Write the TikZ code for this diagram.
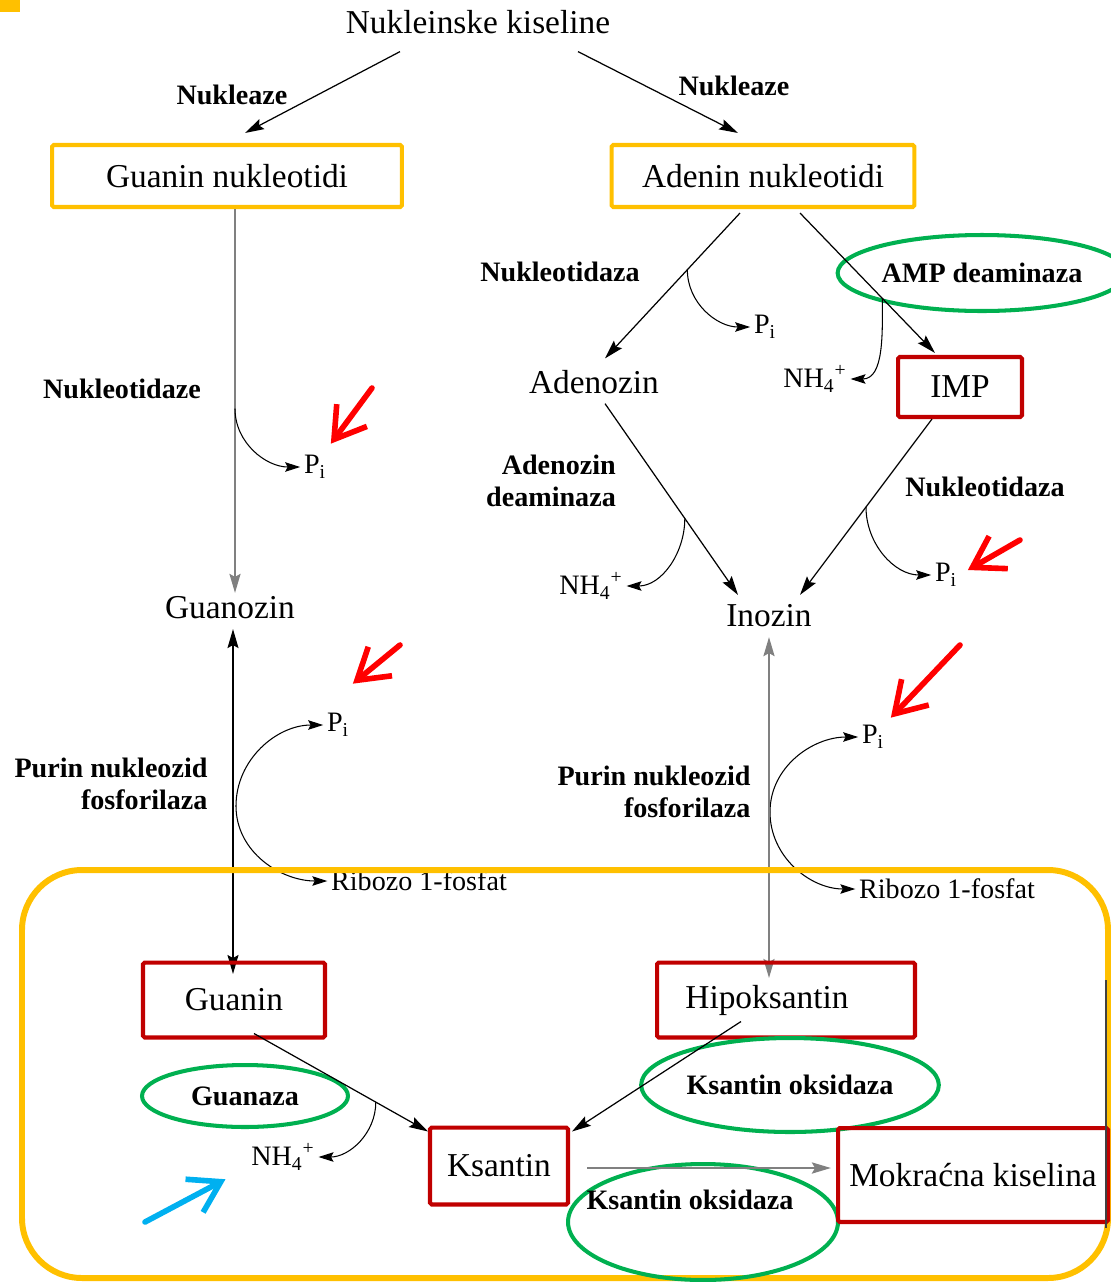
\documentclass[tikz,border=0pt]{standalone}
\usepackage{fontspec}
\setmainfont{Liberation Serif}
\usepackage{tikz}
\usetikzlibrary{arrows.meta,calc,shapes.geometric}

\definecolor{hlorange}{HTML}{FFC000}
\definecolor{boxred}{HTML}{C00000}
\definecolor{ellgreen}{HTML}{00B050}
\definecolor{hintred}{HTML}{FF0000}
\definecolor{hintblue}{HTML}{00B0F0}

\begin{document}
\begin{tikzpicture}[
    x=0.02cm,y=-0.02cm,
    metab/.style={font=\fontsize{19}{22}\selectfont,inner sep=2pt},
    enzyme/.style={font=\fontsize{16}{18}\selectfont\bfseries,inner sep=1pt},
    product/.style={font=\fontsize{16}{18}\selectfont,inner sep=2pt},
    obox/.style={metab,draw=hlorange,line width=2.3pt,rounded corners=1pt,minimum height=1.24cm},
    rbox/.style={metab,draw=boxred,line width=2.3pt,rounded corners=1pt},
    gell/.style={ellipse,draw=ellgreen,line width=2.3pt,inner sep=0pt},
    flow/.style={-{Stealth[length=3.8mm,width=2.2mm,inset=0.6mm]},line width=0.7pt},
    gflow/.style={flow,draw=black!50,line width=1.3pt},
    both/.style={{Stealth[length=3.8mm,width=2.2mm,inset=0.6mm]}-{Stealth[length=3.8mm,width=2.2mm,inset=0.6mm]},line width=0.8pt},
    side/.style={-{Stealth[length=3mm,width=1.9mm,inset=0.5mm]},line width=0.6pt},
    hint/.style={-{Straight Barb[length=6mm,width=7.5mm]},line width=3.2pt,line cap=round,hintred}
]
\useasboundingbox (0,0) rectangle (1111,1282);
\fill[hlorange] (0,0) rectangle (20,12);

% top: nucleic acids to nucleotides
\node[metab] (nk) at (478,22) {Nukleinske kiseline};
\node[enzyme] (nuc1) at (232,95) {Nukleaze};
\node[enzyme] (nuc2) at (734,86) {Nukleaze};
\node[obox,minimum width=7cm] (gnt) at (227,176) {Guanin nukleotidi};
\node[obox,minimum width=6.06cm] (ant) at (763,176) {Adenin nukleotidi};
\draw[flow] ($(nk.south)+(-78,14)$) -- ($(gnt.north)+(18,-10)$);
\draw[flow] ($(nk.south)+(100,14)$) -- ($(ant.north)+(-25,-10)$);

% guanine branch
\node[enzyme] (ntz1) at (122,389) {Nukleotidaze};
\node[product] (pi1) at (315,467) {P\textsubscript{i}};
\node[metab] (guo) at (230,608) {Guanozin};
\draw[gflow] ($(gnt.south)+(8,0)$) -- coordinate[pos=0.52] (b1) ($(guo.north)+(5,0)$);
\draw[side] (b1) to[out=-90,in=180] (pi1.west);

\node[enzyme,align=right] (pnp1) at (111,784) {Purin nukleozid\\fosforilaza};
\node[product] (pi2) at (338,725) {P\textsubscript{i}};
\node[product] (rib1) at (419,881) {Ribozo 1-fosfat};
\coordinate (c1) at (236,806);
\draw[side] (c1) to[out=90,in=180] (pi2.west);
\draw[side] (c1) to[out=-90,in=180] (rib1.west);

% adenine branch
\node[enzyme] (ntz2) at (560,272) {Nukleotidaza};
\node[product] (pi3) at (765,327) {P\textsubscript{i}};
\node[gell,enzyme,minimum width=5.08cm,minimum height=1.52cm] (ampd) at (982,273) {AMP deaminaza};
\node[product] (nh1) at (815,379) {NH\textsubscript{4}\textsuperscript{+}};
\node[metab] (ado) at (594,382) {Adenozin};
\node[rbox,minimum width=2.48cm,minimum height=1.2cm] (imp) at (960,387) {IMP};
\draw[flow] ($(ant.south)+(-23,4)$) -- coordinate[pos=0.39] (a1) ($(ado.north)+(11,-8)$);
\draw[side] (a1) to[out=-90,in=180] (pi3.west);
\draw[flow] ($(ant.south)+(37,4)$) -- coordinate[pos=0.61] (a2) ($(imp.north)+(-25,-2)$);
\draw[side] (a2) to[out=-90,in=0] (nh1.east);

\node[enzyme,align=right] (add) at (551,481) {Adenozin\\deaminaza};
\node[product] (nh2) at (591,586) {NH\textsubscript{4}\textsuperscript{+}};
\node[enzyme] (ntz3) at (985,487) {Nukleotidaza};
\node[product] (pi4) at (946,575) {P\textsubscript{i}};
\node[metab] (ino) at (769,616) {Inozin};
\draw[flow] ($(ado.south)+(11,6)$) -- coordinate[pos=0.6] (a3) ($(ino.north)+(-31,-6)$);
\draw[side] (a3) to[out=-90,in=0] (nh2.east);
\draw[flow] ($(imp.south)+(-28,0)$) -- coordinate[pos=0.5] (a4) ($(ino.north)+(31,-6)$);
\draw[side] (a4) to[out=-90,in=180] (pi4.west);

\node[enzyme,align=right] (pnp2) at (654,792) {Purin nukleozid\\fosforilaza};
\node[product] (pi5) at (873,737) {P\textsubscript{i}};
\node[product] (rib2) at (947,889) {Ribozo 1-fosfat};
\coordinate (c2) at (770,812);
\draw[side] (c2) to[out=90,in=180] (pi5.west);
\draw[side] (c2) to[out=-90,in=180] (rib2.west);

% bases and degradation
\draw[both] ($(guo.south)+(3,6)$) -- (233,974);
\draw[both,draw=black!50,line width=1.3pt] ($(ino.south)+(0,6)$) -- (769,978);

\draw[hlorange,line width=3.4pt,rounded corners=1.2cm] (22,870) rectangle (1108,1278);

\node[rbox,minimum width=3.64cm,minimum height=1.5cm] (gua) at (234,1000) {Guanin};
\node[rbox,minimum width=5.16cm,minimum height=1.5cm] (hip) at (786,1000) {\hspace*{-0.76cm}Hipoksantin};
\node[gell,enzyme,minimum width=4.12cm,minimum height=1.24cm] (gnz) at (245,1096) {Guanaza};
\node[product] (nh3) at (283,1157) {NH\textsubscript{4}\textsuperscript{+}};
\node[rbox,minimum width=2.76cm,minimum height=1.54cm] (ksa) at (499,1166) {Ksantin};
\node[gell,enzyme,minimum width=5.32cm,minimum height=1.88cm] (xo1) at (790,1085) {Ksantin oksidaza};
\node[gell,minimum width=5.4cm,minimum height=2.32cm] (xo2) at (703,1222) {};
\node[enzyme] (xo2t) at (690,1200) {Ksantin oksidaza};
\node[rbox,minimum width=5.4cm,minimum height=1.88cm] (uric) at (973,1175) {Mokraćna kiselina};
\draw[black!75,line width=0.8pt] (1106,980) -- (1106,1228);

\draw[flow] ($(gua.south)+(20,-6)$) -- coordinate[pos=0.7] (a5) ($(ksa.north west)+(0,6)$);
\draw[side] (a5) to[out=-90,in=0] (nh3.east);
\draw[flow] ($(hip.south)+(-45,-18)$) -- ($(ksa.north east)+(2,6)$);
\draw[flow,draw=black!50,line width=1.6pt] ($(ksa.east)+(17,2)$) -- ($(uric.west)+(-5,-7)$);

% highlight arrows
\coordinate (r1) at (372,388);
\coordinate (r2) at (400,645);
\coordinate (r3) at (1020,540);
\coordinate (r4) at (960,645);
\coordinate (r5) at (145,1222);
\draw[hint] (r1) -- ($(pi1.north east)+(1,-8)$);
\draw[hint] (r2) -- ($(pi2.north east)+(0,-26)$);
\draw[hint] (r3) -- ($(pi4.east)+(7,-5)$);
\draw[hint] (r4) -- ($(pi5.north east)+(3,-4)$);
\draw[hint,hintblue] (r5) -- ($(nh3.south west)+(-22,5)$);
\end{tikzpicture}
\end{document}
